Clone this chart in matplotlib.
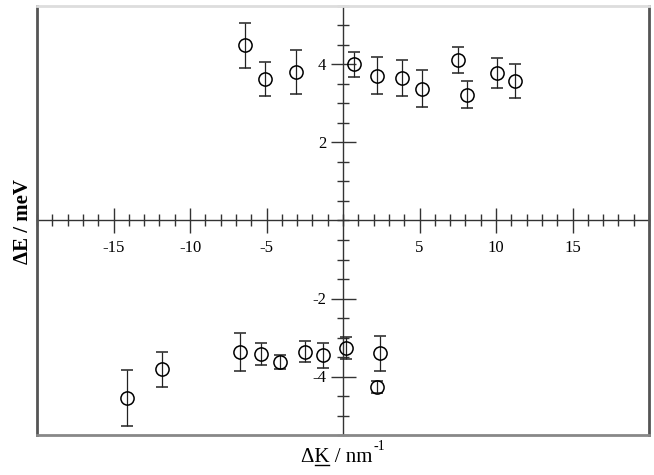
import matplotlib
matplotlib.use("Agg")
import matplotlib.pyplot as plt
from matplotlib.ticker import MultipleLocator, FixedLocator
from matplotlib.lines import Line2D

plt.rcParams['font.family'] = ['Liberation Serif', 'DejaVu Serif']

# Upper branch (positive energy transfer)
dk_up = [-6.40, -5.09, -3.07, 0.72, 2.22, 3.85, 5.16, 7.51, 8.10, 10.06, 11.23]
de_up = [4.49, 3.63, 3.80, 4.00, 3.71, 3.65, 3.38, 4.12, 3.23, 3.78, 3.57]
err_up = [0.57, 0.44, 0.56, 0.33, 0.47, 0.46, 0.47, 0.34, 0.35, 0.38, 0.44]

# Lower branch (negative energy transfer)
dk_lo = [-14.11, -11.82, -6.73, -5.36, -4.11, -2.48, -1.31, 0.20, 2.42, 2.22]
de_lo = [-4.55, -3.81, -3.37, -3.42, -3.63, -3.37, -3.45, -3.27, -3.40, -4.27]
err_lo = [0.71, 0.45, 0.49, 0.29, 0.19, 0.27, 0.32, 0.28, 0.45, 0.15]

x_major = [-15, -10, -5, 5, 10, 15]
y_major = [-4, -2, 2, 4]

fig = plt.figure(figsize=(6.54, 4.75), dpi=100)
ax = fig.add_axes([37/654, 40/475, 612/654, 429/475])
ax.set_xlim(-20, 20)
ax.set_ylim(-5.5, 5.5)

style = dict(fmt='o', ms=9.5, mfc='none', mec='black', mew=1.1,
             ecolor='#222222', elinewidth=0.9, capsize=4.6, capthick=0.9,
             zorder=3)
ax.errorbar(dk_up, de_up, yerr=err_up, **style)
ax.errorbar(dk_lo, de_lo, yerr=err_lo, **style)

# axes through origin
for s in ['top', 'right']:
    ax.spines[s].set_visible(False)
ax.spines['left'].set_position(('data', 0))
ax.spines['bottom'].set_position(('data', 0))
for s in ['left', 'bottom']:
    ax.spines[s].set_color('#333333')
    ax.spines[s].set_linewidth(1.0)

ax.xaxis.set_major_locator(FixedLocator(x_major))
ax.xaxis.set_minor_locator(MultipleLocator(1))
ax.yaxis.set_major_locator(FixedLocator(y_major))
ax.yaxis.set_minor_locator(MultipleLocator(0.5))
ax.tick_params(which='major', direction='inout', length=18, width=1.0,
               color='#333333', labelsize=12)
ax.tick_params(which='minor', direction='inout', length=9, width=1.0,
               color='#333333')
ax.tick_params(axis='x', which='major', pad=5)
ax.tick_params(axis='y', which='major', pad=3)
ax.set_xticklabels([str(v) for v in x_major])
ax.set_yticklabels([str(v) for v in y_major])

# outer frame
ax.plot([0, 0], [0, 1], transform=ax.transAxes, color='#555555', lw=2, clip_on=False, zorder=5)
ax.plot([1, 1], [0, 1], transform=ax.transAxes, color='#555555', lw=2, clip_on=False, zorder=5)
ax.plot([0, 1], [0, 0], transform=ax.transAxes, color='#888888', lw=2, clip_on=False, zorder=5)
ax.plot([0, 1], [1, 1], transform=ax.transAxes, color='#dddddd', lw=2, clip_on=False, zorder=5)

fig.text(23/654, 1 - 221/475, 'ΔE / meV', rotation=90,
         ha='center', va='center', fontsize=15, fontweight='bold')

# x label: "ΔK / nm" with underlined K and raised "-1"
fig.canvas.draw()
r = fig.canvas.get_renderer()
W, H = fig.bbox.width, fig.bbox.height
main_txt = 'ΔK / nm'
fs_main = 15
base_y = 462  # baseline in pixels from top
probe = fig.text(0, 0, main_txt, fontsize=fs_main)
wmain = probe.get_window_extent(r).width
p1 = fig.text(0, 0, 'Δ', fontsize=fs_main)
p2 = fig.text(0, 0, 'ΔK', fontsize=fs_main)
w1 = p1.get_window_extent(r).width
w2 = p2.get_window_extent(r).width
p3 = fig.text(0, 0, '-1', fontsize=10)
wsup = p3.get_window_extent(r).width
for p in (probe, p1, p2, p3):
    p.remove()
total = wmain + 1 + wsup
x_start = 343 - total / 2
fig.text(x_start / W, 1 - base_y / H, main_txt, fontsize=fs_main,
         ha='left', va='baseline')
fig.text((x_start + wmain + 1) / W, 1 - 450 / H, '-1', fontsize=10,
         ha='left', va='baseline')
yu = H - (base_y + 2.5)
fig.add_artist(Line2D([(x_start + w1 + 0.5) / W, (x_start + w2 - 0.5) / W],
                      [yu / H, yu / H], color='black', lw=1.0))

fig.savefig('out.png', dpi=100)
